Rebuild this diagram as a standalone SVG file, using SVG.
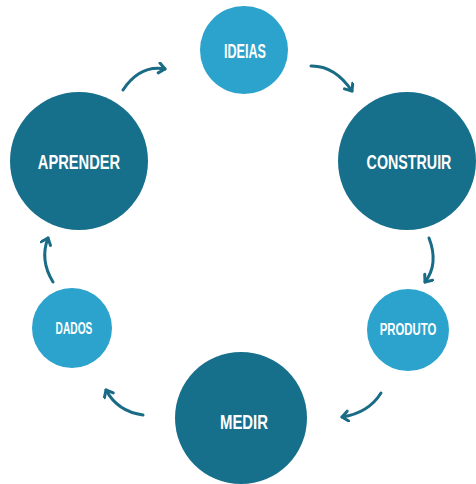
<svg xmlns="http://www.w3.org/2000/svg" width="476" height="484" viewBox="0 0 476 484">
  <defs>
    <style>
      .big { fill: #166f8b; }
      .small { fill: #2ba3cd; }
      .label { fill: #ffffff; font-family: "Liberation Sans", Arial, sans-serif; font-weight: bold; text-anchor: middle; }
      .lg { font-size: 21px; }
      .sm { font-size: 17px; }
      .flow { fill: none; stroke: #1a6b86; stroke-width: 3; stroke-linecap: round; }
    </style>
    <marker id="head" markerUnits="userSpaceOnUse" markerWidth="14" markerHeight="14" refX="8" refY="6" orient="auto">
      <path d="M2,1 L8,6 L2,11" fill="none" stroke="#1a6b86" stroke-width="3" stroke-linecap="round" stroke-linejoin="round"/>
    </marker>
  </defs>
  <rect width="476" height="484" fill="#ffffff"/>

  <g id="connectors">
    <path class="flow" d="M123,90 Q140,64.5 165,69" marker-end="url(#head)"/>
    <path class="flow" d="M311,66 Q334.5,65.5 352,91" marker-end="url(#head)"/>
    <path class="flow" d="M429,238 Q439,264 425,282" marker-end="url(#head)"/>
    <path class="flow" d="M381,393 Q368.5,413 342,417" marker-end="url(#head)"/>
    <path class="flow" d="M143,415 Q117.5,411.5 106,390" marker-end="url(#head)"/>
    <path class="flow" d="M53,282 Q39.5,260 48,238" marker-end="url(#head)"/>
  </g>

  <!-- labels use a horizontally condensed bold sans -->
  <g id="ideias">
    <circle class="small" cx="244" cy="50" r="44"/>
    <text class="label lg" transform="translate(245,57.5) scale(0.6,1)">IDEIAS</text>
  </g>
  <g id="aprender">
    <circle class="big" cx="79" cy="161" r="69"/>
    <text class="label lg" transform="translate(79,168.5) scale(0.7,1)">APRENDER</text>
  </g>
  <g id="construir">
    <circle class="big" cx="407" cy="161" r="69"/>
    <text class="label lg" transform="translate(409,169) scale(0.68,1)">CONSTRUIR</text>
  </g>
  <g id="dados">
    <circle class="small" cx="72" cy="328" r="40"/>
    <text class="label sm" transform="translate(74,334) scale(0.6,1)">DADOS</text>
  </g>
  <g id="produto">
    <circle class="small" cx="408" cy="330" r="41"/>
    <text class="label sm" transform="translate(408,335) scale(0.67,1)">PRODUTO</text>
  </g>
  <g id="medir">
    <circle class="big" cx="241" cy="418" r="66"/>
    <text class="label lg" transform="translate(244,428.5) scale(0.71,1)">MEDIR</text>
  </g>
</svg>
